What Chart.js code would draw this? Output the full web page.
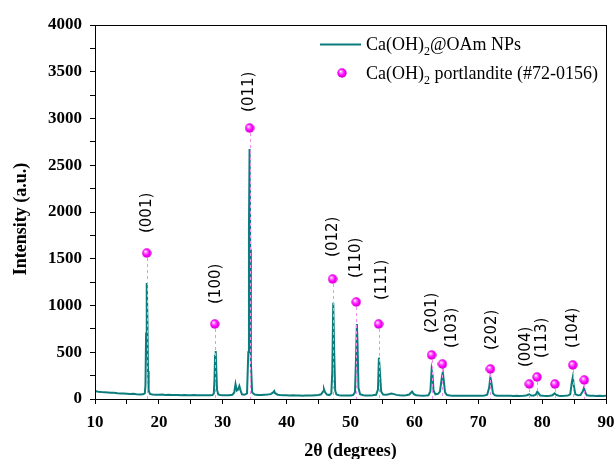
<!DOCTYPE html>
<html><head><meta charset="utf-8">
<script src="https://cdn.jsdelivr.net/npm/chart.js@4.4.0/dist/chart.umd.min.js"></script>
<style>html,body{margin:0;padding:0;background:#fff}#wrap{width:614px;height:459px;position:relative}</style>
</head><body><div id="wrap"><canvas id="c" width="614" height="459"></canvas></div>
<script>
// Measured XRD pattern of Ca(OH)2@OAm NPs (2theta in degrees, intensity in a.u.)
const twoTheta = [
 10,10.5,11,11.5,12,12.5,13,13.5,14,14.5,15,15.5,16,16.5,17,17.5,17.8,17.9,18.0,18.1,18.2,18.3,18.4,18.6,
 19,19.5,20,20.5,21,21.5,22,22.5,23,23.5,24,24.5,25,25.5,26,26.5,27,27.5,28,28.4,28.6,28.7,28.8,28.9,29.0,29.1,29.3,29.6,
 30,30.5,31,31.5,31.8,32.0,32.2,32.4,32.6,32.8,33.0,33.4,33.8,34.0,34.1,34.2,34.3,34.4,34.6,
 35,35.5,36,36.5,37,37.5,37.9,38.05,38.2,38.6,39,39.5,
 40,40.5,41,41.5,42,42.5,43,43.5,44,44.5,45,45.4,45.7,45.85,46.0,46.3,46.7,47.0,47.15,47.3,47.45,47.6,47.8,
 48.2,48.7,49,49.5,50,50.4,50.7,50.85,51.0,51.1,51.25,51.5,52,52.5,53,53.5,54,54.3,54.45,54.6,54.8,
 55.1,55.6,56.0,56.4,56.8,57.2,57.7,58.2,58.7,59.2,59.5,59.65,59.9,60.3,60.8,61.3,61.8,62.2,62.5,62.7,62.85,63.0,63.3,
 63.7,64.0,64.3,64.45,64.6,64.8,65.1,65.6,66,66.5,67,67.5,68,68.5,69,69.5,70,70.5,71,71.4,71.7,71.9,72.05,72.3,72.6,
 73,73.5,74,74.5,75,75.5,76,76.5,77,77.5,77.8,78.0,78.2,78.6,79.0,79.25,79.45,79.7,80.2,80.7,81.2,81.6,81.95,82.2,82.6,
 83,83.5,84,84.4,84.65,84.8,84.95,85.2,85.6,86.0,86.35,86.55,86.75,87.0,87.5,88,88.5,89,89.5,90
];
const intensity = [
 85,78,74,72,70,66,68,62,60,58,56,54,55,50,48,50,60,150,700,1240,900,300,90,55,
 48,46,45,47,44,45,42,44,43,40,42,41,40,42,40,41,39,40,40,42,60,200,460,513,300,100,48,42,
 40,41,40,45,70,160,90,100,139,90,50,45,60,500,1800,2674,1600,400,70,
 48,44,42,45,48,52,70,85,62,46,42,40,
 40,38,39,37,38,36,37,38,37,40,42,50,80,105,75,48,42,60,300,1030,500,90,48,
 40,38,37,38,38,42,70,400,802,600,120,50,40,38,38,40,45,100,442,300,80,
 48,45,50,58,52,44,40,38,40,48,70,80,52,40,37,36,37,40,80,310,250,90,50,
 55,80,230,286,200,70,42,38,36,35,36,35,34,36,35,34,35,36,38,45,120,232,180,60,40,
 36,35,34,35,34,33,34,33,35,38,45,50,40,36,45,78,60,38,34,33,34,40,60,45,35,
 33,34,36,50,180,232,150,50,40,42,80,120,70,40,35,34,33,34,33,34
];
// Reference pattern: Ca(OH)2 portlandite (#72-0156)
const refPos = [18.1, 28.75, 34.2, 47.2, 50.9, 54.4, 62.7, 64.4, 71.9, 78.0, 79.2, 82.0, 84.8, 86.6];
const refInt = [1561, 802, 2898, 1283, 1037, 802, 471, 374, 321, 160, 235, 160, 364, 203];
// Miller index labels and their anchor (2theta, intensity)
const hklText = ['(001)','(100)','(011)','(012)','(110)','(111)','(201)','(103)','(202)','(004)','(113)','(104)'];
const hklX = [18.08, 28.9, 34.2, 47.2, 50.9, 55.0, 62.8, 65.9, 72.1, 77.45, 79.95, 84.85];
const hklY = [1775, 1016, 3070, 1519, 1294, 1059, 706, 545, 524, 342, 438, 545];
const xTicks = [10,20,30,40,50,60,70,80,90];
const yTicks = [0,500,1000,1500,2000,2500,3000,3500,4000];

const TEAL = '#0c7d7d';

function makeSphere(d){
  const cv = document.createElement('canvas');
  cv.width = d; cv.height = d;
  const g = cv.getContext('2d');
  const r = d/2;
  const grd = g.createRadialGradient(r*0.7, r*0.65, r*0.05, r, r, r);
  grd.addColorStop(0, '#ffffff');
  grd.addColorStop(0.25, '#ff7bff');
  grd.addColorStop(0.6, '#ff00ff');
  grd.addColorStop(1, '#c800c8');
  g.fillStyle = grd;
  g.beginPath(); g.arc(r, r, r-0.3, 0, Math.PI*2); g.fill();
  return cv;
}
const sphere = makeSphere(10);

const points = twoTheta.map((x,i)=>({x:x, y:intensity[i]}));

const overlay = {
  id:'overlay',
  afterDatasetsDraw(chart){
    const ctx = chart.ctx, xs = chart.scales.x, ys = chart.scales.y;
    ctx.save();
    ctx.strokeStyle = '#f28ef2';
    ctx.lineWidth = 1;
    ctx.setLineDash([3,3]);
    refPos.forEach((p,i)=>{
      const px = Math.round(xs.getPixelForValue(p))+0.5;
      ctx.beginPath();
      ctx.moveTo(px, ys.getPixelForValue(refInt[i])+5);
      ctx.lineTo(px, ys.getPixelForValue(0));
      ctx.stroke();
    });
    ctx.setLineDash([]);
    refPos.forEach((p,i)=>{
      ctx.drawImage(sphere, xs.getPixelForValue(p)-5, ys.getPixelForValue(refInt[i])-5);
    });
    ctx.fillStyle = '#000';
    ctx.font = '15px "DejaVu Sans"';
    ctx.textAlign = 'left';
    ctx.textBaseline = 'middle';
    hklText.forEach((t,i)=>{
      ctx.save();
      ctx.translate(xs.getPixelForValue(hklX[i]), ys.getPixelForValue(hklY[i]));
      ctx.rotate(-Math.PI/2);
      ctx.fillText(t, 0, 0);
      ctx.restore();
    });
    ctx.restore();
  },
  afterDraw(chart){
    const ctx = chart.ctx, a = chart.chartArea;
    ctx.save();
    ctx.strokeStyle = '#000';
    ctx.lineWidth = 1;
    ctx.strokeRect(Math.round(a.left)+0.5, Math.round(a.top)+0.5, Math.round(a.right-a.left), Math.round(a.bottom-a.top));
    ctx.fillStyle = '#000';
    ctx.font = 'bold 18px "Liberation Serif"';
    ctx.textAlign = 'center';
    ctx.textBaseline = 'middle';
    ctx.fillText('2θ (degrees)', (a.left+a.right)/2, 451);
    ctx.save();
    ctx.translate(21, 219);
    ctx.rotate(-Math.PI/2);
    ctx.fillText('Intensity (a.u.)', 0, 0);
    ctx.restore();
    ctx.strokeStyle = TEAL;
    ctx.lineWidth = 2;
    ctx.beginPath(); ctx.moveTo(320, 44.5); ctx.lineTo(361, 44.5); ctx.stroke();
    ctx.drawImage(sphere, 337, 68);
    ctx.textAlign = 'left';
    ctx.textBaseline = 'alphabetic';
    function sub(x, y, parts){
      parts.forEach(p=>{
        if(p.sub){ ctx.font = '12px "Liberation Serif"'; ctx.fillText(p.t, x, y+5); }
        else { ctx.font = '18px "Liberation Serif"'; ctx.fillText(p.t, x, y); }
        x += ctx.measureText(p.t).width;
      });
    }
    sub(366, 50, [{t:'Ca(OH)'},{t:'2',sub:true},{t:'@OAm NPs'}]);
    sub(366, 79, [{t:'Ca(OH)'},{t:'2',sub:true},{t:' portlandite (#72-0156)'}]);
    ctx.restore();
  }
};

new Chart(document.getElementById('c'), {
  type:'line',
  data:{ datasets:[{
    label:'Ca(OH)2@OAm NPs', data:points, borderColor:TEAL, borderWidth:2,
    pointRadius:0, fill:false, tension:0
  }]},
  options:{
    responsive:false, animation:false, devicePixelRatio:1,
    layout:{padding:{left:0, right:8, top:25, bottom:0}},
    plugins:{legend:{display:false}, tooltip:{enabled:false}},
    scales:{
      x:{type:'linear', min:10, max:90,
        afterFit(s){ s.height = 60; s.paddingLeft = 0; s.paddingRight = 0; },
        afterBuildTicks(s){ const t=[]; for(let v=10; v<=90; v+=5) t.push({value:v}); s.ticks=t; },
        ticks:{autoSkip:false, maxRotation:0, color:'#000', padding:8,
          font:{family:'"Liberation Serif"', size:17, weight:'bold'},
          callback:(v)=> xTicks.includes(v) ? String(v) : ''},
        grid:{drawOnChartArea:false, tickLength:5, tickColor:'#000', tickWidth:1},
        border:{color:'#000', width:1}
      },
      y:{type:'linear', min:0, max:4000,
        afterFit(s){ s.width = 95; s.paddingTop = 0; s.paddingBottom = 0; },
        afterBuildTicks(s){ const t=[]; for(let v=0; v<=4000; v+=250) t.push({value:v}); s.ticks=t; },
        ticks:{autoSkip:false, color:'#000', padding:8,
          font:{family:'"Liberation Serif"', size:17, weight:'bold'},
          callback:(v)=> yTicks.includes(v) ? String(v) : ''},
        grid:{drawOnChartArea:false, tickLength:5, tickColor:'#000', tickWidth:1},
        border:{color:'#000', width:1}
      }
    }
  },
  plugins:[overlay]
});
</script></body></html>
